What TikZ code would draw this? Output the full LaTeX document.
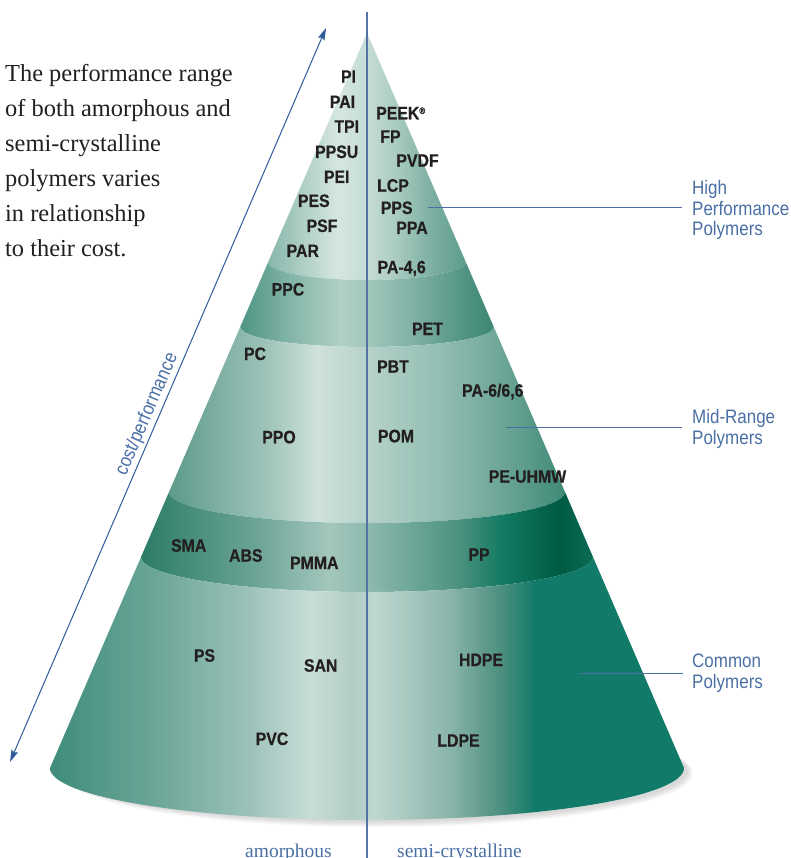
\documentclass[tikz,border=0pt]{standalone}
\usepackage{fontspec}
\setmainfont{Liberation Serif}
\newfontfamily\labfont[FakeStretch=0.88,BoldFeatures={FakeBold=0.6}]{Liberation Sans}
\newfontfamily\bluefont[FakeStretch=0.87]{Liberation Sans}
\usetikzlibrary{arrows.meta}
\definecolor{txtdark}{HTML}{231F20}
\definecolor{accent}{HTML}{4A6FA5}
\definecolor{arrowblue}{HTML}{2F5B9B}
\definecolor{axisline}{HTML}{5574A6}
% top section
\definecolor{T0}{HTML}{86B7AA}\definecolor{T1}{HTML}{B5D2CA}\definecolor{T2}{HTML}{D5E6E2}
\definecolor{T3}{HTML}{C6DCD6}\definecolor{T4}{HTML}{A9CBC1}\definecolor{T5}{HTML}{82B3A6}\definecolor{T6}{HTML}{5C9C8B}
% band 1
\definecolor{A0}{HTML}{4F9483}\definecolor{A1}{HTML}{8CBBAE}\definecolor{A2}{HTML}{B0CFC6}
\definecolor{A3}{HTML}{A3C7BD}\definecolor{A4}{HTML}{79AD9F}\definecolor{A5}{HTML}{4D9180}\definecolor{A6}{HTML}{3E8874}
% mid section
\definecolor{M0}{HTML}{5C9A8A}\definecolor{M1}{HTML}{9FC4BA}\definecolor{M2}{HTML}{CFE1DD}
\definecolor{M3}{HTML}{B6D2CA}\definecolor{M4}{HTML}{8FBCB0}\definecolor{M5}{HTML}{6AA494}\definecolor{M6}{HTML}{3F8A77}
% band 2
\definecolor{B0}{HTML}{2B7C66}\definecolor{B1}{HTML}{6AA394}\definecolor{B2}{HTML}{A4C7BD}
\definecolor{B3}{HTML}{8DBAAE}\definecolor{B4}{HTML}{4D9280}\definecolor{B5}{HTML}{137A63}\definecolor{B6}{HTML}{005A44}\definecolor{B7}{HTML}{0B6C55}
% bottom section
\definecolor{C0}{HTML}{3F8C7B}\definecolor{C1}{HTML}{6AA597}\definecolor{C2}{HTML}{9CC2B9}\definecolor{C3}{HTML}{C8DDD8}
\definecolor{C4}{HTML}{B2CDC6}\definecolor{C5}{HTML}{C0D8D2}\definecolor{C6}{HTML}{8AB5AA}\definecolor{C7}{HTML}{4D8F80}\definecolor{C8}{HTML}{127A68}
\pgfdeclarehorizontalshading{topsh}{100bp}{color(0bp)=(T0); color(25bp)=(T0); color(35bp)=(T1); color(42.5bp)=(T2); color(50bp)=(T3); color(57.5bp)=(T4); color(65bp)=(T5); color(75bp)=(T6); color(100bp)=(T6)}
\pgfdeclarehorizontalshading{bandonesh}{100bp}{color(0bp)=(A0); color(25bp)=(A0); color(36.75bp)=(A1); color(44.75bp)=(A2); color(50bp)=(A3); color(60.5bp)=(A4); color(70.25bp)=(A5); color(74.25bp)=(A6); color(100bp)=(A6)}
\pgfdeclarehorizontalshading{midsh}{100bp}{color(0bp)=(M0); color(25bp)=(M0); color(37.5bp)=(M1); color(43.75bp)=(M2); color(50bp)=(M3); color(60bp)=(M4); color(67.5bp)=(M5); color(75bp)=(M6); color(100bp)=(M6)}
\pgfdeclarehorizontalshading{bandtwosh}{100bp}{color(0bp)=(B0); color(25bp)=(B0); color(37.5bp)=(B1); color(45.75bp)=(B2); color(50bp)=(B3); color(60bp)=(B4); color(65bp)=(B5); color(71.25bp)=(B6); color(75bp)=(B7); color(100bp)=(B7)}
\pgfdeclarehorizontalshading{botsh}{100bp}{color(0bp)=(C0); color(25bp)=(C0); color(33bp)=(C1); color(40.75bp)=(C2); color(45.5bp)=(C3); color(49bp)=(C4); color(50.5bp)=(C5); color(56.5bp)=(C6); color(60.5bp)=(C7); color(63.25bp)=(C8); color(75bp)=(C8); color(100bp)=(C8)}
\begin{document}
\begin{tikzpicture}[x=1pt,y=-1pt,
  poly/.style={font=\labfont\bfseries\fontsize{18}{18}\selectfont, text=txtdark, inner sep=0pt, anchor=base},
  cat/.style={font=\bluefont\fontsize{19.5}{20.7}\selectfont, text=accent, inner sep=0pt, align=left, anchor=north west},
  leader/.style={draw=accent, line width=1pt},
  axislabel/.style={font=\fontsize{19.5}{20}\selectfont, text=accent, inner sep=0pt, anchor=base}]
\useasboundingbox (0,0) rectangle (791,858);
% soft shadow under the base, offset to the lower right
\foreach \k in {1,...,8} {
  \fill[black, opacity=0.018] ({374+0.5*\k},{770+0.45*\k}) ellipse [x radius={312pt+0.4pt*\k}, y radius={51pt+0.35pt*\k}];
}
% top section
\begin{scope}
  \clip (367,33) -- (268.2,262) arc[start angle=180, end angle=360, x radius=98.8pt, y radius=18pt] -- cycle;
  \shade[shading=topsh] (268.2,20) rectangle (465.8,300);
\end{scope}
% band 1
\begin{scope}
  \clip (268.2,262) arc[start angle=180, end angle=360, x radius=98.8pt, y radius=18pt]
        -- (493.8,327) arc[start angle=360, end angle=180, x radius=126.8pt, y radius=20pt] -- cycle;
  \shade[shading=bandonesh] (240.2,250) rectangle (493.8,360);
\end{scope}
% mid section
\begin{scope}
  \clip (240.2,327) arc[start angle=180, end angle=360, x radius=126.8pt, y radius=20pt]
        -- (565,492) arc[start angle=360, end angle=180, x radius=198pt, y radius=31pt] -- cycle;
  \shade[shading=midsh] (169,320) rectangle (565,530);
\end{scope}
% band 2
\begin{scope}
  \clip (169,492) arc[start angle=180, end angle=360, x radius=198pt, y radius=31pt]
        -- (593,557) arc[start angle=360, end angle=180, x radius=226pt, y radius=35pt] -- cycle;
  \shade[shading=bandtwosh] (141,480) rectangle (593,600);
\end{scope}
% bottom section
\begin{scope}
  \clip (141,557) arc[start angle=180, end angle=360, x radius=226pt, y radius=35pt]
        -- (684,768) arc[start angle=360, end angle=180, x radius=317pt, y radius=52pt] -- cycle;
  \shade[shading=botsh] (50,550) rectangle (684,830);
\end{scope}
% vertical divider
\coordinate (vtop) at (367,12);
\coordinate (vbot) at (367,858);
\draw[axisline, line width=1.1pt] (vtop) -- (vbot);
% cost/performance arrow
\coordinate (arrB) at (10,762);
\coordinate (arrT) at (326,28);
\draw[arrowblue, line width=1pt, {Stealth[length=12pt,width=7pt,inset=1.5pt]}-{Stealth[length=12pt,width=7pt,inset=1.5pt]}] (arrB) -- (arrT);
\node[font=\bluefont\fontsize{19.5}{20}\selectfont, text=accent, inner sep=0pt, anchor=base, rotate=66.7] (costlbl) at (151.7,416.4) {cost/performance};
% intro text
\node[font=\fontsize{24.4}{35}\selectfont, text=txtdark, inner sep=0pt, align=left, anchor=north west] (intro) at (5,64.3)
  {The performance range\\of both amorphous and\\semi-crystalline\\polymers varies\\in relationship\\to their cost.};
% category labels and leaders
\node[cat] (hp) at (692,180) {High\\Performance\\Polymers};
\node[cat] (mr) at (692,409) {Mid-Range\\Polymers};
\node[cat] (cp) at (692,653.7) {Common\\Polymers};
\coordinate (hpa) at (428,208); \coordinate (hpb) at (682,208);
\coordinate (mra) at (506,427); \coordinate (mrb) at (682,427);
\coordinate (cpa) at (578,673); \coordinate (cpb) at (683,673);
\draw[leader] (hpa) -- (hpb);
\draw[leader] (mra) -- (mrb);
\draw[leader] (cpa) -- (cpb);
% bottom labels
\node[axislabel] (amor) at (288.5,857) {amorphous};
\node[axislabel] (semi) at (459.5,857) {semi-crystalline};
% polymer labels
\node[poly] (pi) at (348.5,82.7) {PI};
\node[poly] (pai) at (342.5,108) {PAI};
\node[poly] (tpi) at (346.7,132.7) {TPI};
\node[poly] (ppsu) at (336.7,158) {PPSU};
\node[poly] (pei) at (336.7,183) {PEI};
\node[poly] (pes) at (313.8,207) {PES};
\node[poly] (psf) at (322,232) {PSF};
\node[poly] (par) at (302.8,257) {PAR};
\node[poly, anchor=base west] (peek) at (376,119.3) {PEEK\raisebox{5.5pt}{\fontsize{9}{9}\selectfont ®}};
\node[poly] (fp) at (390.5,142.7) {FP};
\node[poly] (pvdf) at (417.5,166.7) {PVDF};
\node[poly] (lcp) at (393,191.7) {LCP};
\node[poly] (pps) at (396.7,214) {PPS};
\node[poly] (ppa) at (412,234) {PPA};
\node[poly] (pa46) at (401.7,273.3) {PA-4,6};
\node[poly] (ppc) at (288,295.5) {PPC};
\node[poly] (pet) at (427.5,335) {PET};
\node[poly] (pc) at (255,360) {PC};
\node[poly] (pbt) at (393,372.7) {PBT};
\node[poly] (pa66) at (492.8,396.7) {PA-6/6,6};
\node[poly] (ppo) at (279,443.3) {PPO};
\node[poly] (pom) at (396,442.3) {POM};
\node[poly] (peuhmw) at (527.5,482.7) {PE-UHMW};
\node[poly] (sma) at (188.7,551.7) {SMA};
\node[poly] (abs) at (245.8,561.7) {ABS};
\node[poly] (pmma) at (314.3,569) {PMMA};
\node[poly] (pp) at (479,560.7) {PP};
\node[poly] (ps) at (204.5,661.7) {PS};
\node[poly] (san) at (320.7,671.7) {SAN};
\node[poly] (hdpe) at (481,666) {HDPE};
\node[poly] (pvc) at (272,745) {PVC};
\node[poly] (ldpe) at (458.5,746.7) {LDPE};
\end{tikzpicture}
\end{document}
